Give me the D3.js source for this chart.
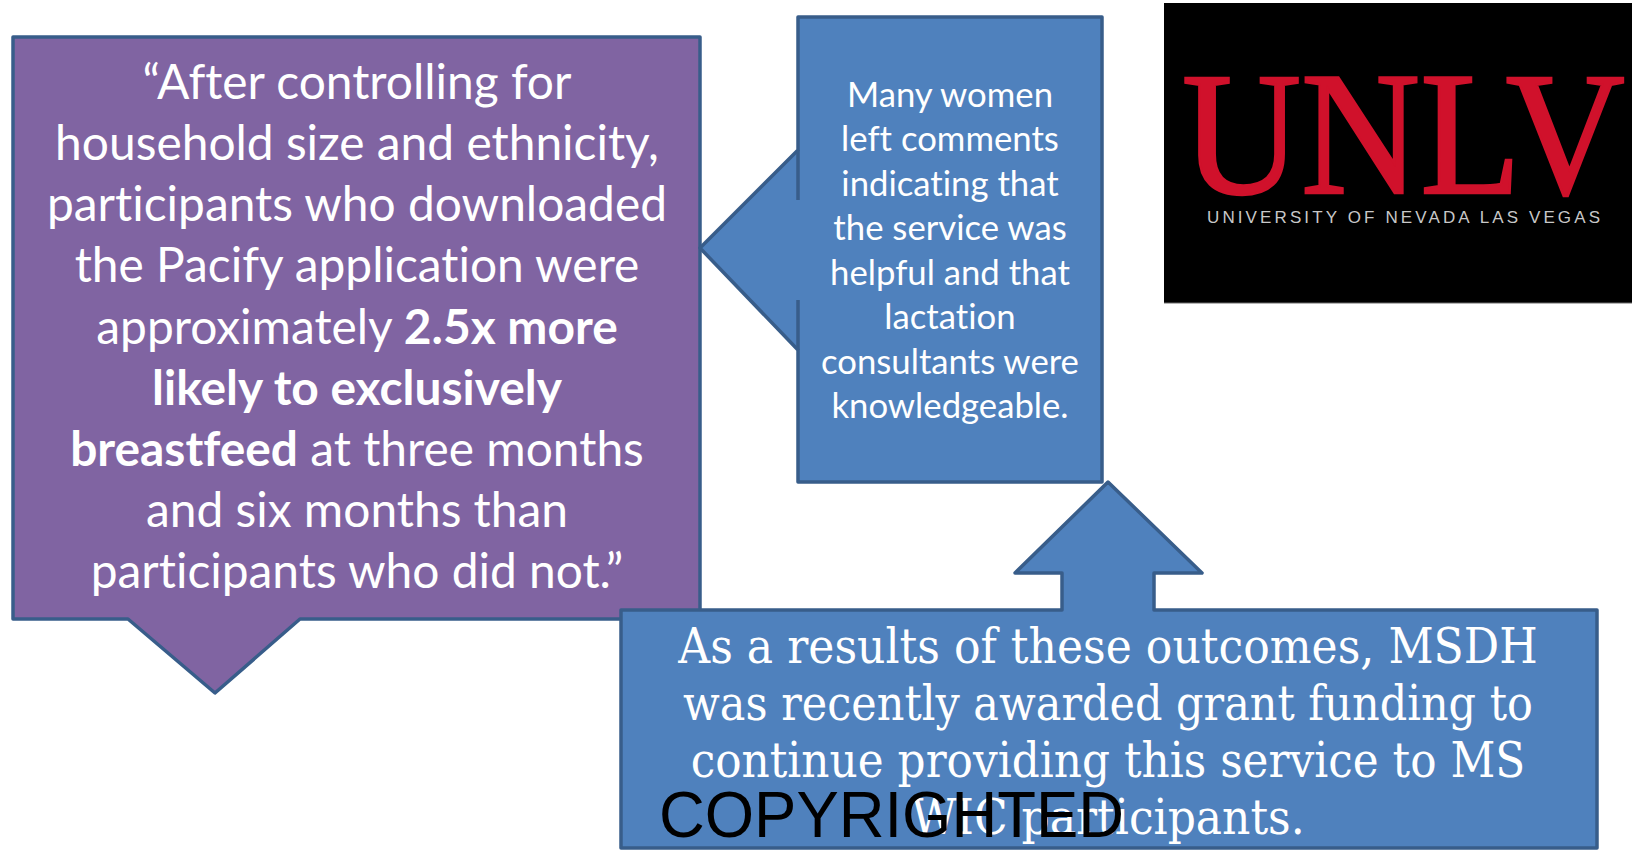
<!DOCTYPE html>
<html>
<head>
<meta charset="utf-8">
<script src="https://cdn.jsdelivr.net/npm/d3@7"></script>
<style>
  html, body { margin: 0; padding: 0; background: #ffffff; }
  text { font-variant-ligatures: none; }
</style>
</head>
<body>
<div class="slide"></div>
<script>
// text content of the three callouts (bold runs marked with b: true)
let quoteLines = [
    [{t: "\u201CAfter controlling for"}],
    [{t: "household size and ethnicity,"}],
    [{t: "participants who downloaded"}],
    [{t: "the Pacify application were"}],
    [{t: "approximately "}, {t: "2.5x more", b: true}],
    [{t: "likely to exclusively", b: true}],
    [{t: "breastfeed", b: true}, {t: " at three months"}],
    [{t: "and six months than"}],
    [{t: "participants who did not.\u201D"}]
];

let commentLines = [
    "Many women",
    "left comments",
    "indicating that",
    "the service was",
    "helpful and that",
    "lactation",
    "consultants were",
    "knowledgeable."
];

let outcomeLines = [
    "As a results of these outcomes, MSDH",
    "was recently awarded grant funding to",
    "continue providing this service to MS",
    "WIC participants."
];

let logoWord = "UNLV";
let logoSub = "UNIVERSITY OF NEVADA LAS VEGAS";
let stamp = "COPYRIGHTED";

let width = 1632;
let height = 850;

let purpleFill = "#8064A2";
let blueFill = "#4F81BD";
let edge = "#385D8A";

let svg = d3
    .select(".slide")
    .append("svg")
    .attr("width", width)
    .attr("height", height)
    .style("display", "block")
    .style("background-color", "white");

// fit font size so the summed line widths get the wanted total
function fitFont(textSel, baseSize, targetTotal) {
    let total = 0;
    textSel.each(function () {
        total += this.getComputedTextLength();
    });
    let size = baseSize * targetTotal / total;
    textSel.style("font-size", size + "px");
    return size;
}

// ---- purple quote box with pointer down ----
let purplePath = d3.path();
purplePath.moveTo(13, 37);
purplePath.lineTo(700, 37);
purplePath.lineTo(700, 619);
purplePath.lineTo(300, 619);
purplePath.lineTo(215, 693);
purplePath.lineTo(128, 619);
purplePath.lineTo(13, 619);
purplePath.closePath();

svg.append("path")
    .attr("d", purplePath.toString())
    .style("fill", purpleFill)
    .style("stroke", edge)
    .style("stroke-width", 3.5)
    .style("stroke-linejoin", "round");

let yQuote = d3.scaleLinear().domain([0, quoteLines.length - 1]).range([99, 588]);

let quoteText = svg.append("g")
    .selectAll("text")
    .data(quoteLines)
    .enter()
    .append("text")
    .attr("x", 357)
    .attr("y", function (d, i) { return yQuote(i); })
    .attr("text-anchor", "middle")
    .style("font-family", "Lato")
    .style("font-size", "50px")
    .style("fill", "white");

quoteText.selectAll("tspan")
    .data(function (d) { return d; })
    .enter()
    .append("tspan")
    .style("font-weight", function (d) { return d.b ? "bold" : "normal"; })
    .text(function (d) { return d.t; });

fitFont(quoteText, 50, 4678);

// ---- blue comment box with pointer left ----
let commentPath = d3.path();
commentPath.moveTo(798, 17);
commentPath.lineTo(1102, 17);
commentPath.lineTo(1102, 482);
commentPath.lineTo(798, 482);
commentPath.lineTo(798, 350);
commentPath.lineTo(700, 248);
commentPath.lineTo(798, 150);
commentPath.closePath();

svg.append("path")
    .attr("d", commentPath.toString())
    .style("fill", blueFill)
    .style("stroke", edge)
    .style("stroke-width", 3.5)
    .style("stroke-linejoin", "round");

// leftover bits of the box edge inside the pointer
svg.append("g")
    .selectAll("line")
    .data([[150, 200], [300, 350]])
    .enter()
    .append("line")
    .attr("x1", 798)
    .attr("x2", 798)
    .attr("y1", function (d) { return d[0]; })
    .attr("y2", function (d) { return d[1]; })
    .style("stroke", edge)
    .style("stroke-width", 3.5);

let yComment = d3.scaleLinear().domain([0, commentLines.length - 1]).range([107, 418]);

let commentText = svg.append("g")
    .selectAll("text")
    .data(commentLines)
    .enter()
    .append("text")
    .attr("x", 950)
    .attr("y", function (d, i) { return yComment(i); })
    .attr("text-anchor", "middle")
    .style("font-family", "Lato")
    .style("font-size", "36px")
    .style("fill", "white")
    .text(function (d) { return d; });

fitFont(commentText.filter(function (d, i) { return i === 6; }), 36, 258);
commentText.style("font-size", commentText.filter(function (d, i) { return i === 6; }).style("font-size"));

// ---- bottom box with arrow up ----
let outcomePath = d3.path();
outcomePath.moveTo(621, 610);
outcomePath.lineTo(1062, 610);
outcomePath.lineTo(1062, 573);
outcomePath.lineTo(1015, 573);
outcomePath.lineTo(1108, 482);
outcomePath.lineTo(1202, 573);
outcomePath.lineTo(1154, 573);
outcomePath.lineTo(1154, 610);
outcomePath.lineTo(1597, 610);
outcomePath.lineTo(1597, 848);
outcomePath.lineTo(621, 848);
outcomePath.closePath();

svg.append("path")
    .attr("d", outcomePath.toString())
    .style("fill", blueFill)
    .style("stroke", edge)
    .style("stroke-width", 3.5)
    .style("stroke-linejoin", "round");

let yOutcome = d3.scaleLinear().domain([0, outcomeLines.length - 1]).range([663, 834]);

let outcomeText = svg.append("g")
    .selectAll("text")
    .data(outcomeLines)
    .enter()
    .append("text")
    .attr("x", 1108)
    .attr("y", function (d, i) { return yOutcome(i); })
    .attr("text-anchor", "middle")
    .style("font-family", "Liberation Serif")
    .style("font-size", "52px")
    .style("fill", "white")
    .text(function (d) { return d; });

// measure widths with a Times-like face, then draw with a Century-like face squeezed to them
let outSize = fitFont(outcomeText.filter(function (d, i) { return i === 1; }), 52, 850);
outcomeText.style("font-size", outSize + "px");
let outWidths = [];
outcomeText.each(function () { outWidths.push(this.getComputedTextLength()); });
outcomeText
    .style("font-family", "DejaVu Serif")
    .style("font-size", "48px")
    .attr("textLength", function (d, i) { return outWidths[i]; })
    .attr("lengthAdjust", "spacingAndGlyphs");

// ---- UNLV logo ----
svg.append("rect")
    .attr("x", 1164)
    .attr("y", 3)
    .attr("width", width - 1164)
    .attr("height", 300)
    .style("fill", "black");

svg.append("line")
    .attr("x1", 1164)
    .attr("x2", width)
    .attr("y1", 303)
    .attr("y2", 303)
    .style("stroke", "#6b6b6b")
    .style("stroke-width", 1);

svg.append("text")
    .attr("x", 1182)
    .attr("y", 193)
    .attr("textLength", 443)
    .attr("lengthAdjust", "spacingAndGlyphs")
    .style("font-family", "Liberation Serif")
    .style("font-size", "175px")
    .style("fill", "#D0112B")
    .style("stroke", "#D0112B")
    .style("stroke-width", 2.5)
    .text(logoWord);

svg.append("text")
    .attr("x", 1207)
    .attr("y", 223)
    .attr("textLength", 393)
    .attr("lengthAdjust", "spacing")
    .style("font-family", "Liberation Sans")
    .style("font-size", "17px")
    .style("fill", "#c8c8c8")
    .text(logoSub);

// ---- watermark ----
svg.append("text")
    .attr("x", 659)
    .attr("y", 837)
    .attr("textLength", 465)
    .attr("lengthAdjust", "spacingAndGlyphs")
    .style("font-family", "Liberation Sans")
    .style("font-size", "65px")
    .style("fill", "black")
    .text(stamp);
</script>
</body>
</html>
